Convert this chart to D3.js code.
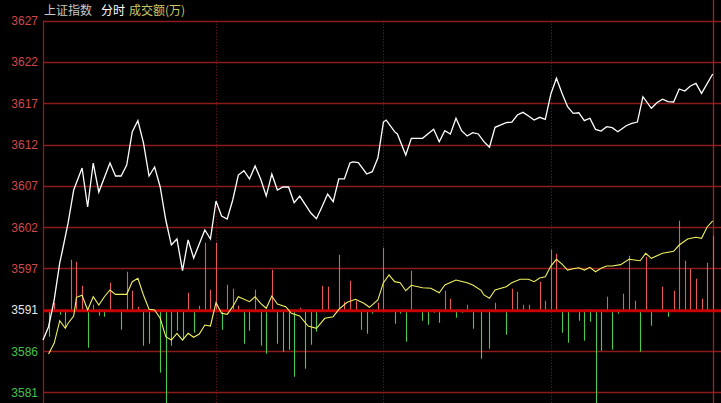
<!DOCTYPE html>
<html><head><meta charset="utf-8">
<script src="https://cdn.jsdelivr.net/npm/d3@7/dist/d3.min.js"></script>
<style>html,body{margin:0;padding:0;background:#000;overflow:hidden}svg{display:block}</style>
</head><body>
<svg id="c" width="721" height="403"></svg>
<script>
const titleParts = [["上证指数", "#c8c8c8"], ["分时", "#ffffff"], ["成交额(万)", "#c8c864"]];
const prevClose = 3591.40;
const yTickValues = [3627.45, 3622.30, 3617.15, 3612.00, 3606.85, 3601.70, 3596.55, 3591.40, 3586.25, 3581.10];
const vLineMinutes = [62, 122, 182];
const priceSeries = [[0,3587.62],[2,3589.28],[4,3592.61],[6,3597.23],[7,3598.85],[9,3602.22],[11,3606.33],[14,3609.08],[16,3604.21],[18,3609.70],[20,3606.08],[24,3609.70],[26,3608.08],[28,3608.08],[30,3609.45],[32,3613.61],[34,3614.98],[36,3612.20],[38,3608.08],[40,3609.20],[42,3606.71],[44,3602.59],[46,3599.47],[48,3600.22],[50,3596.27],[52,3600.10],[54,3597.85],[58,3601.34],[60,3600.22],[62,3604.96],[64,3603.09],[66,3602.72],[68,3605.09],[70,3608.20],[72,3608.74],[74,3607.71],[76,3609.33],[78,3607.71],[80,3605.58],[82,3608.33],[84,3606.33],[86,3606.71],[88,3606.71],[90,3604.75],[92,3605.58],[96,3603.46],[98,3602.75],[100,3604.25],[102,3605.83],[104,3604.87],[106,3607.71],[108,3607.71],[110,3609.70],[111,3609.83],[113,3609.74],[116,3608.33],[118,3608.62],[120,3610.32],[122,3614.81],[123,3615.06],[126,3613.61],[127,3613.32],[130,3610.70],[132,3612.78],[136,3612.78],[140,3613.90],[142,3612.36],[144,3613.73],[146,3613.32],[148,3615.28],[150,3613.73],[152,3613.07],[154,3613.48],[156,3613.32],[158,3612.36],[160,3611.66],[162,3614.15],[166,3614.73],[168,3614.81],[170,3615.69],[172,3616.02],[174,3615.56],[176,3615.06],[178,3615.40],[180,3615.15],[182,3618.31],[184,3620.27],[186,3618.39],[188,3616.72],[190,3615.90],[192,3615.97],[194,3614.98],[196,3615.28],[198,3613.90],[200,3613.69],[202,3614.23],[204,3614.10],[206,3613.61],[209,3614.35],[211,3614.65],[213,3614.81],[215,3617.97],[218,3616.52],[220,3617.22],[222,3617.65],[224,3617.35],[226,3617.31],[228,3618.93],[230,3618.68],[232,3619.31],[234,3619.64],[236,3618.39],[240,3620.80]];
const avgSeries = [[2,3585.88],[4,3587.21],[6,3590.03],[8,3589.08],[9,3589.71],[11,3590.62],[12,3592.95],[14,3593.20],[16,3591.37],[18,3593.02],[20,3591.99],[22,3593.02],[24,3593.86],[26,3593.32],[30,3593.32],[32,3594.90],[34,3595.32],[36,3593.24],[38,3591.45],[40,3591.37],[42,3590.33],[44,3588.04],[46,3587.62],[48,3588.46],[50,3587.62],[52,3588.46],[54,3587.96],[56,3588.37],[58,3589.49],[60,3589.37],[62,3592.28],[64,3590.95],[66,3590.83],[68,3591.78],[70,3593.02],[74,3592.40],[76,3593.02],[78,3592.20],[80,3591.58],[82,3593.11],[84,3592.11],[87,3591.78],[89,3590.95],[92,3590.62],[95,3589.37],[98,3589.08],[101,3590.33],[104,3590.53],[106,3591.45],[109,3592.33],[112,3592.70],[115,3592.20],[117,3591.70],[120,3592.61],[122,3594.77],[124,3595.73],[126,3594.90],[128,3594.77],[130,3593.77],[132,3594.45],[136,3594.15],[139,3594.07],[142,3593.52],[144,3594.48],[148,3595.11],[152,3594.77],[154,3594.48],[157,3593.81],[158,3593.24],[160,3592.82],[162,3593.86],[166,3594.27],[168,3594.77],[171,3595.20],[174,3595.20],[176,3594.90],[178,3595.36],[180,3595.52],[182,3596.85],[184,3597.69],[186,3597.10],[188,3596.35],[190,3596.52],[192,3596.64],[194,3596.35],[196,3596.69],[198,3596.14],[200,3596.57],[202,3596.85],[204,3596.85],[207,3597.02],[210,3597.69],[212,3597.60],[214,3597.51],[216,3598.44],[218,3597.81],[222,3598.44],[226,3598.69],[228,3599.47],[231,3600.22],[234,3600.43],[236,3600.31],[238,3601.72],[240,3602.47]];
const volSeries = [[2,-2700],[4,700],[6,-500],[8,-1800],[10,5000],[12,4800],[14,2400],[16,-3800],[18,500],[20,-600],[22,-700],[24,2700],[26,-200],[28,-2000],[30,3800],[32,1900],[34,300],[36,-3600],[38,-3400],[42,-6300],[44,-9500],[46,-3600],[48,-2100],[50,-3000],[52,1700],[54,-2300],[56,400],[58,6700],[60,2000],[62,6700],[64,-2000],[66,2500],[68,2100],[70,400],[72,-3400],[74,-2100],[76,2000],[78,-3600],[80,-4400],[82,4000],[84,-3400],[86,-4200],[88,-4000],[90,-6700],[92,200],[94,-5900],[96,-3500],[98,-2200],[100,2400],[102,2300],[106,5500],[108,800],[110,2900],[112,900],[114,-2000],[116,-2400],[118,-400],[120,700],[122,6200],[126,-1400],[128,-400],[130,-3200],[132,3900],[136,-1100],[138,-1500],[140,-300],[142,-1300],[144,1900],[146,1100],[148,-800],[150,-300],[152,500],[154,-1900],[157,-4900],[160,-3900],[162,700],[166,-2500],[168,2100],[170,1800],[172,500],[174,500],[178,2800],[180,900],[182,6000],[184,5600],[186,-2300],[188,-3300],[192,-1100],[194,-3100],[196,-1200],[198,-9500],[200,-4100],[202,1300],[204,-4000],[206,-400],[208,1600],[210,5400],[212,900],[214,-4200],[216,5300],[218,-1600],[222,2300],[224,-700],[226,1900],[228,8900],[230,4900],[232,4100],[234,3100],[236,1100],[238,4700],[240,7400]];

const svg = d3.select("#c");
const W = 721, H = 403;
const pLeft = 43, pRight = 712.7, pTop = 20.7, pBottom = 392.3;
const x = d3.scaleLinear().domain([0, 240]).range([pLeft, pRight]);
const y = d3.scaleLinear().domain([yTickValues[yTickValues.length-1], yTickValues[0]]).range([pBottom, pTop]);
const barH = d3.scaleLinear().domain([0, 10000]).range([0, 100]);
const base = y(prevClose);

svg.append("rect").attr("width", W).attr("height", H).attr("fill", "#000");

// horizontal grid
svg.append("g").selectAll("line").data(yTickValues.filter(v => v !== prevClose)).join("line")
  .attr("x1", pLeft).attr("x2", W).attr("y1", d => Math.round(y(d)) + 0.5).attr("y2", d => Math.round(y(d)) + 0.5)
  .attr("stroke", "#8c1c1c").attr("stroke-width", 1.3);

// vertical dotted lines
svg.append("g").selectAll("line").data(vLineMinutes).join("line")
  .attr("x1", d => Math.round(x(d)) + 0.5).attr("x2", d => Math.round(x(d)) + 0.5)
  .attr("y1", pTop).attr("y2", H)
  .attr("stroke", "#8c1c1c").attr("stroke-width", 1).attr("stroke-dasharray", "1,2");

// borders
svg.append("line").attr("x1", pLeft + 0.5).attr("x2", pLeft + 0.5).attr("y1", pTop).attr("y2", H)
  .attr("stroke", "#8c1c1c").attr("stroke-width", 1.3);
svg.append("line").attr("x1", Math.round(pRight) + 0.5).attr("x2", Math.round(pRight) + 0.5).attr("y1", 0).attr("y2", H)
  .attr("stroke", "#a82020").attr("stroke-width", 1.3);

// volume bars
svg.append("g").selectAll("line").data(volSeries).join("line")
  .attr("x1", d => Math.round(x(d[0])) + 0.5).attr("x2", d => Math.round(x(d[0])) + 0.5)
  .attr("y1", base).attr("y2", d => base - (d[1] >= 0 ? barH(d[1]) : -barH(-d[1])))
  .attr("stroke", d => d[1] >= 0 ? "#e85a5a" : "#4cc84c").attr("stroke-width", 1.1);

// baseline
svg.append("line").attr("x1", pLeft).attr("x2", W).attr("y1", base + 1).attr("y2", base + 1)
  .attr("stroke", "#c80000").attr("stroke-width", 3);

// lines
const line = d3.line().x(d => x(d[0])).y(d => y(d[1]));
svg.append("path").datum(avgSeries).attr("d", line).attr("fill", "none")
  .attr("stroke", "#f0f060").attr("stroke-width", 1.1);
svg.append("path").datum(priceSeries).attr("d", line).attr("fill", "none")
  .attr("stroke", "#ffffff").attr("stroke-width", 1.3);

// y labels
const fmt = d3.format(".0f");
svg.append("g").selectAll("text").data(yTickValues).join("text")
  .attr("x", 38).attr("y", d => y(d) + 4.5).attr("text-anchor", "end")
  .attr("font-family", "Liberation Sans, Arial, sans-serif").attr("font-size", 12)
  .attr("fill", d => d > prevClose ? "#d04848" : (d < prevClose ? "#48c048" : "#e8e8e8"))
  .text(d => fmt(d));

// title
const tx = [44, 101, 129];
svg.append("g").selectAll("text").data(titleParts).join("text")
  .attr("x", (d, i) => tx[i]).attr("y", 15)
  .attr("font-family", "Noto Sans CJK SC, sans-serif").attr("font-size", 12)
  .attr("fill", d => d[1]).text(d => d[0]);
</script>
</body></html>
